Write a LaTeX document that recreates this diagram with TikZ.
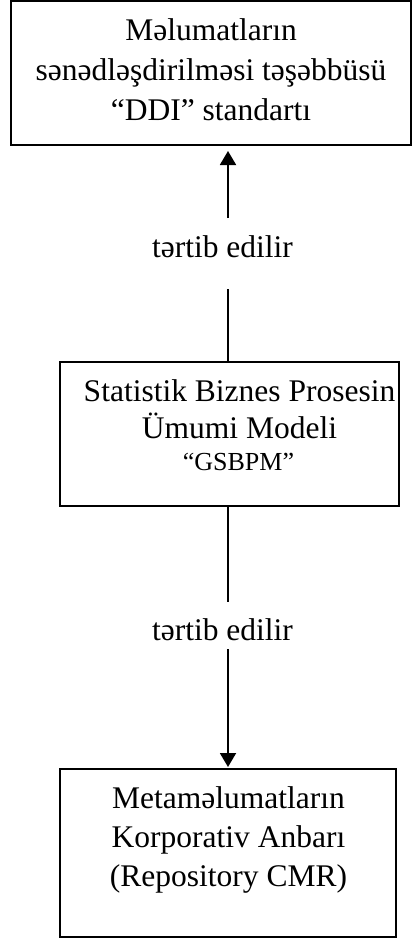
\documentclass[tikz,border=0pt]{standalone}
\usepackage{fontspec}
\setmainfont{Liberation Serif}
\usetikzlibrary{arrows.meta}
\begin{document}
\begin{tikzpicture}[x=1pt,y=-1pt,
  boxst/.style={draw,line width=2pt,rectangle,inner sep=0pt,outer sep=0pt},
  maintxt/.style={font=\fontsize{31.5}{38}\selectfont,anchor=base,inner sep=0pt},
  smalltxt/.style={font=\fontsize{26}{31}\selectfont,anchor=base,inner sep=0pt},
  conn/.style={line width=1.9pt},
  arrowtip/.style={-{Triangle[length=14pt,width=16pt]}}
]
\useasboundingbox (0,0) rectangle (412,938);
% boxes
\node[boxst,minimum width=400pt,minimum height=144pt] (topbox) at (211,73) {};
\node[boxst,minimum width=339pt,minimum height=144pt] (midbox) at (229.5,434) {};
\node[boxst,minimum width=336pt,minimum height=168pt] (botbox) at (228,853) {};
% top box text
\node[maintxt] (t1) at (211,40) {Məlumatların};
\node[maintxt] (t2) at (211,80) {sənədləşdirilməsi təşəbbüsü};
\node[maintxt] (t3) at (211,120) {“DDI” standartı};
% middle box text
\node[maintxt] (m1) at (239.5,401) {Statistik Biznes Prosesin};
\node[maintxt] (m2) at (239.5,438) {Ümumi Modeli};
\node[smalltxt] (m3) at (238.5,470) {“GSBPM”};
% bottom box text
\node[maintxt] (b1) at (228.5,808) {Metaməlumatların};
\node[maintxt] (b2) at (228.5,847) {Korporativ Anbarı};
\node[maintxt] (b3) at (228.5,886) {(Repository CMR)};
% connector labels
\node[maintxt] (lab1) at (222.5,257) {tərtib edilir};
\node[maintxt] (lab2) at (222.5,640) {tərtib edilir};
% connector break points
\coordinate (u1) at (228,289);
\coordinate (u2) at (228,218);
\coordinate (d1) at (228,602);
\coordinate (d2) at (228,649);
% connectors
\draw[conn] (u1 |- midbox.north) -- (u1);
\draw[conn,arrowtip,shorten >=6pt] (u2) -- (u2 |- topbox.south);
\draw[conn] (d1 |- midbox.south) -- (d1);
\draw[conn,arrowtip,shorten >=2pt] (d2) -- (d2 |- botbox.north);
\end{tikzpicture}
\end{document}
